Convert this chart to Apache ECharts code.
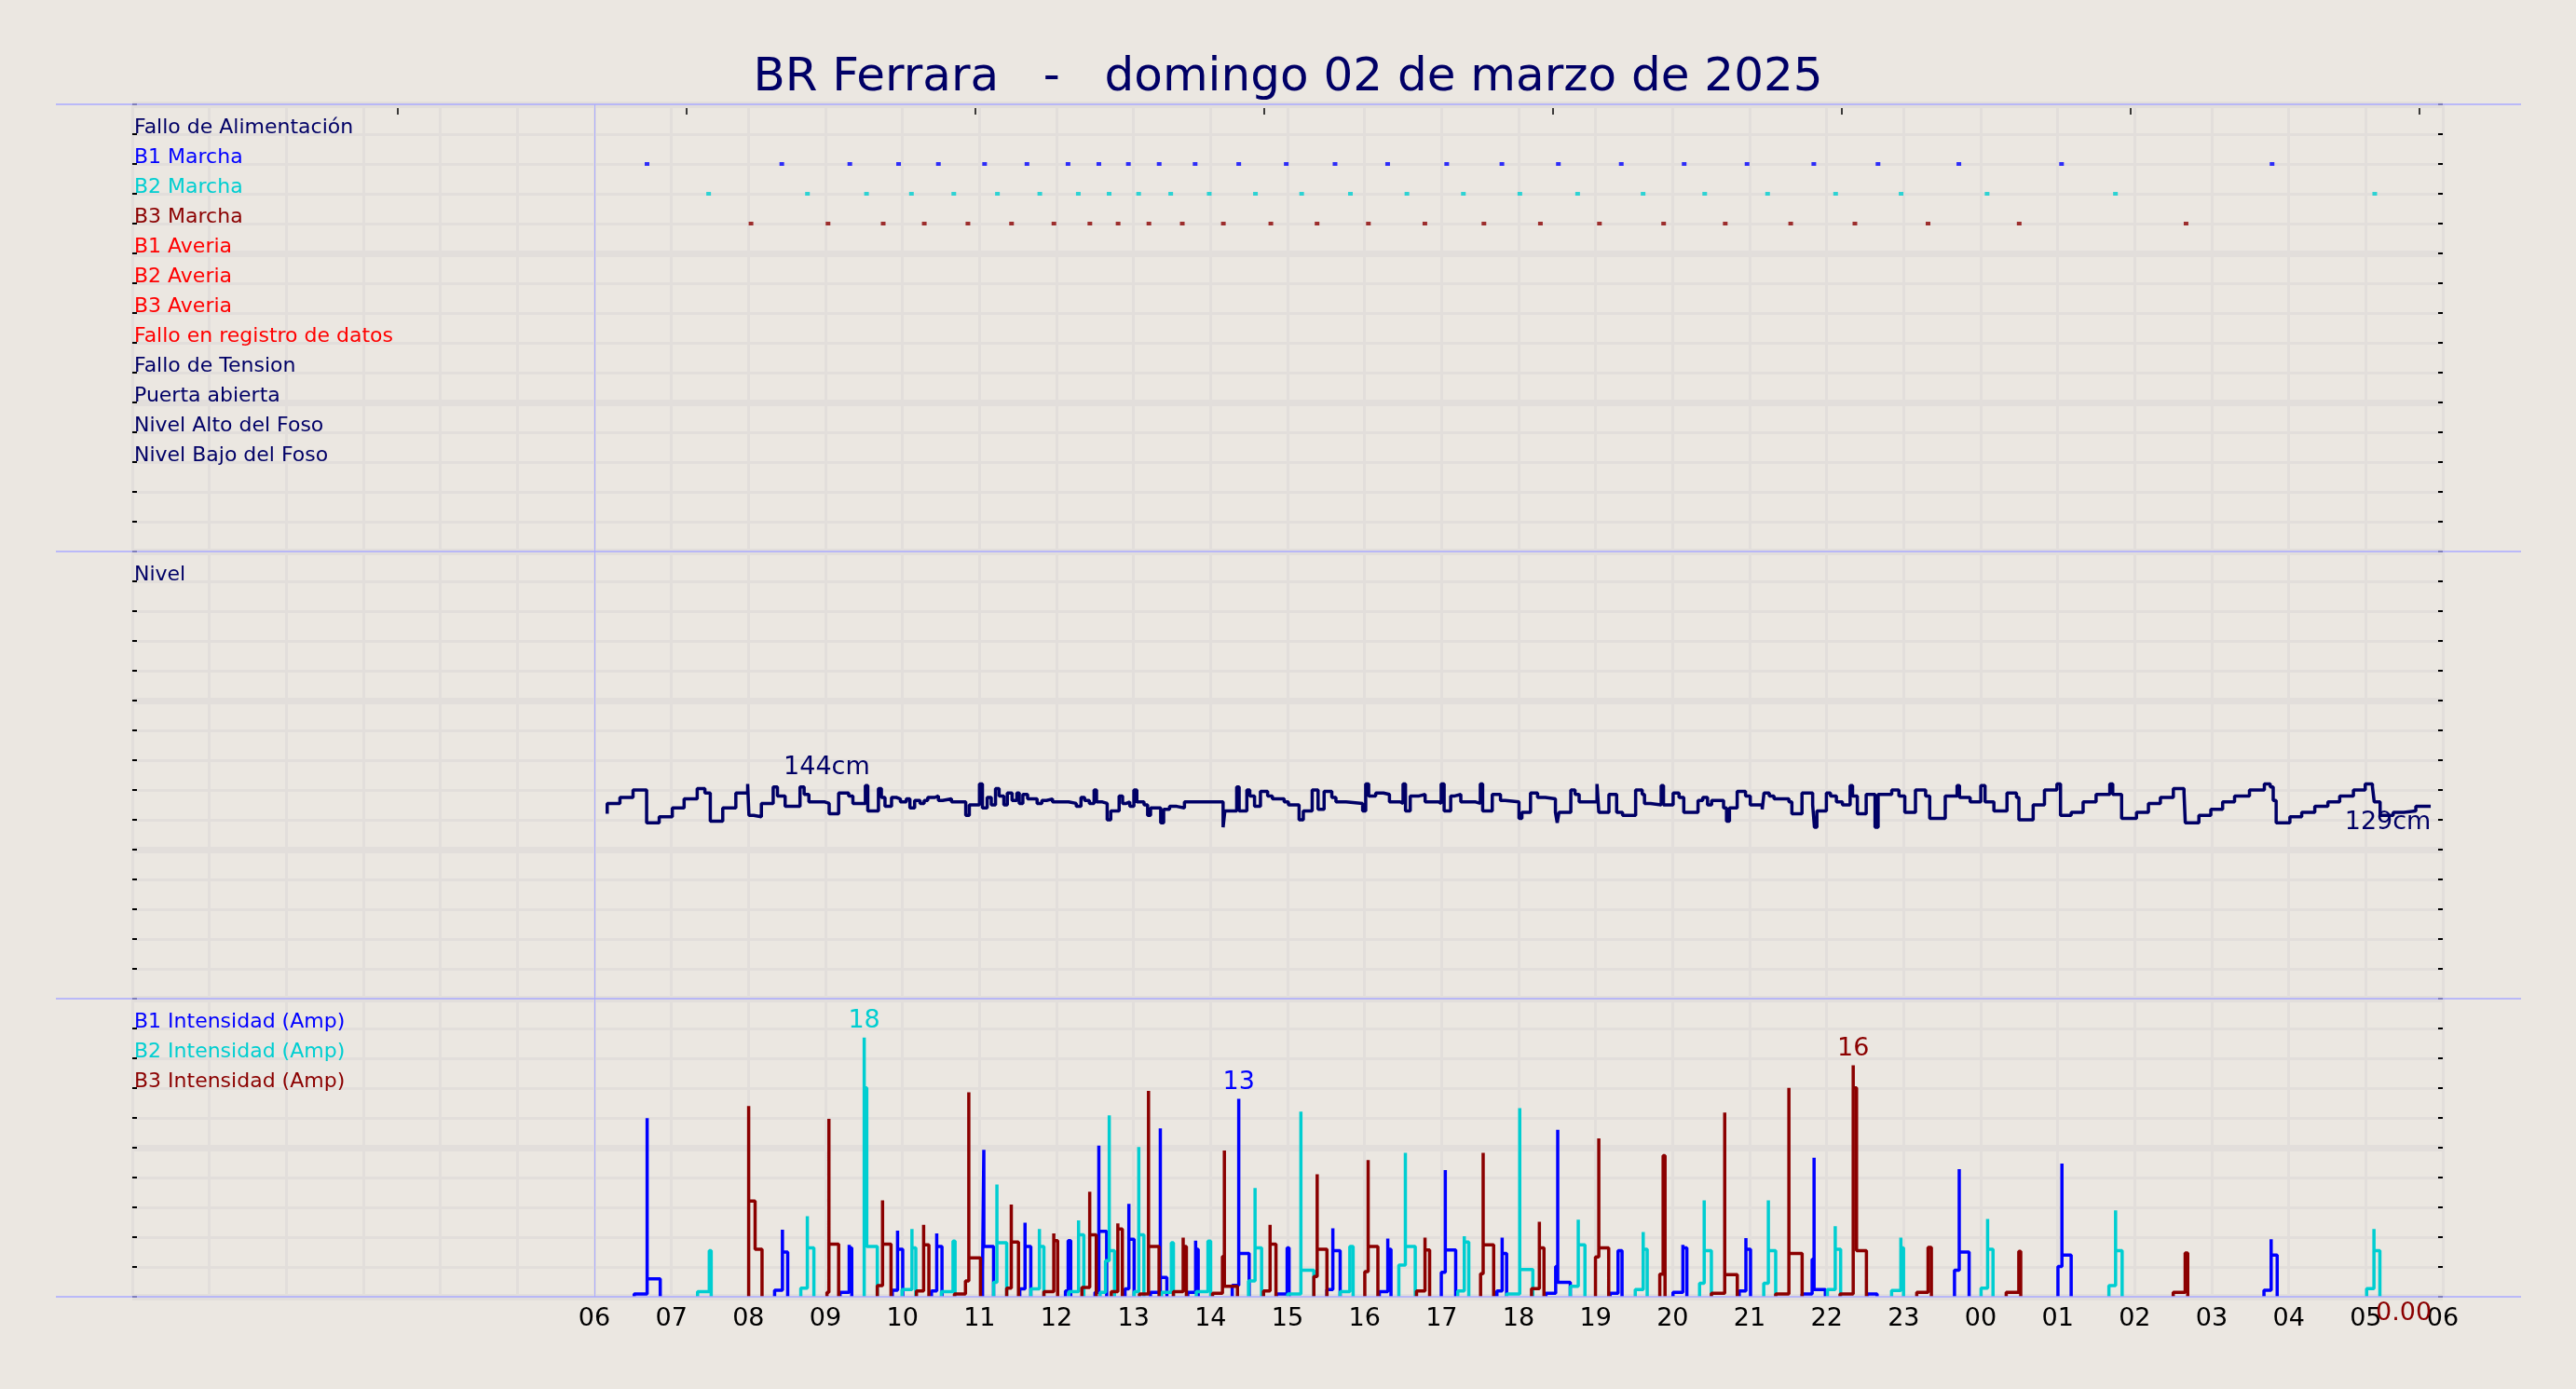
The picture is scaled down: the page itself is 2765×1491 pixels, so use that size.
<!DOCTYPE html>
<html>
<head>
<meta charset="utf-8">
<script src="https://cdn.jsdelivr.net/npm/echarts@6/dist/echarts.min.js"></script>
<style>
html,body{margin:0;padding:0;background:#ebe7e1;}
#chart{width:2765px;height:1491px;}
</style>
</head>
<body>
<div id="chart"></div>
<script>
// ---------------- DATA (time in minutes from 00:00 of 02/03/2025) ----------------
const titleText = 'BR Ferrara   -   domingo 02 de marzo de 2025';
const hourLabels = ['06','07','08','09','10','11','12','13','14','15','16','17','18','19','20','21','22','23','00','01','02','03','04','05','06'];
const rowLabels = ['Fallo de Alimentación','B1 Marcha','B2 Marcha','B3 Marcha','B1 Averia','B2 Averia','B3 Averia','Fallo en registro de datos','Fallo de Tension','Puerta abierta','Nivel Alto del Foso','Nivel Bajo del Foso'];
const nivelLabel = 'Nivel';
const ampLabels = ['B1 Intensidad (Amp)','B2 Intensidad (Amp)','B3 Intensidad (Amp)'];

const b1Marcha = [401,506,559,597,628,664,697,729,753,776,800,828,862,899,937,978,1024,1067,1111,1160,1209,1258,1310,1360,1423,1503,1667];
const b2Marcha = [449,526,572,607,640,674,707,737,761,784,809,839,875,911,949,993,1037,1081,1126,1177,1225,1274,1327,1378,1445,1545,1747];
const b3Marcha = [482,542,585,617,651,685,718,746,768,792,818,850,887,923,963,1007,1053,1097,1143,1193,1241,1292,1342,1399,1470,1600];

const nivelT = [370,370,379.9,390.1,400.7,410.5,420.7,429.9,440.1,446.1,450.3,460,470.2,479.4,480.4,484.1,490.1,499.3,502.6,508.6,520.2,523.4,527.1,539.6,542.9,550.3,558.1,561.4,571.1,573,581.3,583.6,586.4,591.5,595.2,598.4,603,605.8,609.5,613.7,616.9,619.7,625.3,628,631.3,638.2,649.3,652.1,660,662.3,666,669.2,672.5,675.3,679,681.7,685.4,689.1,691,693.8,697.5,704.9,708.6,712.3,716.9,729.4,735.4,739.1,741.9,745.6,749.3,751.2,755.8,759.5,762.3,768.8,771.5,774.3,777.1,780.3,782.6,788.2,791,793.3,801.2,803.5,808.1,813.7,819.7,849.8,851.2,860.4,862.3,868.3,870.6,874.3,878.9,884.5,888.2,897.4,900.7,909,912.3,919.2,923.8,928.5,934.5,937.7,945.6,958.5,960.9,963.2,968.7,974.7,979.4,987.7,990,991.9,995.6,1002.5,1007.2,1017.8,1019.7,1022,1027.1,1030.3,1035,1046.5,1050.2,1052,1059.5,1065.9,1069.6,1080.3,1082.6,1089.3,1094.8,1100.8,1108.7,1110.1,1111.5,1120.7,1124,1127.2,1141.1,1142.5,1150.4,1156.4,1161,1171.2,1176.3,1178.1,1182.8,1191.1,1192.9,1200.4,1205,1208.7,1219.8,1223.5,1227.2,1230.4,1239.7,1242,1244.3,1250.3,1256.8,1260.5,1269.8,1271.2,1275.3,1279,1290.6,1292.9,1300.8,1309.1,1310.5,1312.4,1319.8,1323,1327.6,1332.3,1338.3,1340.2,1343.9,1350.8,1357.7,1360.1,1370.7,1376.3,1380.9,1389.2,1397.1,1400.3,1412.4,1421.6,1423.5,1431.8,1440.1,1443.4,1450.3,1460.5,1467.9,1469.8,1480.9,1489.7,1499.4,1502.2,1510.5,1519.8,1529.9,1540.6,1542.9,1549.8,1561.4,1570.7,1580,1590.1,1598.4,1599.4,1610,1619.3,1628.5,1637.8,1649.4,1661,1665.6,1667.9,1670.2,1680.9,1690.1,1700.3,1710.5,1719.7,1730.4,1739.6,1745.2,1746.6,1751.2,1761.4,1769.7,1779,1790.6];
const nivelCm = [124,131,135,140,118,122,128,134,141,138,119,128,138,144,123,122,131,142,136,129,142,137,132,131,124,138,136,131,143,126,141,135,129,135,134,132,134,128,133,131,133,135,136,133,134,132,123,130,144,128,135,130,141,136,130,138,133,138,131,137,134,131,133,134,132,131,129,135,133,131,140,132,131,120,126,136,131,132,129,140,132,130,123,128,118,127,129,128,132,115,126,142,126,140,136,129,139,136,134,132,130,120,126,140,127,139,135,132,131,126,144,136,138,137,132,131,144,126,136,137,132,131,144,126,136,137,132,131,144,126,137,133,132,121,125,138,135,134,125,118,125,140,137,132,144,125,137,125,123,140,137,131,130,143,130,138,135,125,133,135,130,133,128,119,128,139,136,130,127,138,136,134,132,124,138,130,115,126,138,136,132,130,143,136,124,137,115,137,140,136,125,140,136,121,136,143,135,132,143,132,126,138,135,120,130,140,144,123,125,132,137,144,137,121,125,131,135,141,138,118,123,127,132,136,140,144,142,133,118,122,125,129,132,136,140,144,142,132,123,125,126,129,129];

// pump current pulses: [minute, amps]
const b1Pulses = [
 [[391,0.2],[401.1,12.4],[401.1,1.25],[411.3,0]],
 [[500.4,0.45],[506.5,4.66],[506.5,3.1],[510.6,0]],
 [[551.4,0.3],[558.5,3.6],[558.5,3.4],[560.5,0]],
 [[592.1,0.45],[596.2,4.6],[596.2,3.3],[600.2,0]],
 [[622.6,0.4],[626.7,4.4],[626.7,3.5],[630.8,0]],
 [[662.4,1.8],[663.4,10.2],[663.4,3.5],[671,0]],
 [[691.4,0.55],[695.5,5.15],[695.5,3.5],[700,0]],
 [[727,0.4],[729.1,3.9],[731.1,0]],
 [[750,0.3],[753,10.5],[753,4.55],[759.1,0]],
 [[773.4,0.55],[776.4,6.45],[776.4,4.0],[780.5,0]],
 [[793.2,0.3],[800.9,11.7],[800.9,1.35],[806,0]],
 [[822.3,0.3],[828.4,3.9],[828.4,3.3],[830.4,0]],
 [[856.9,0.8],[862,13.75],[862,3.0],[870.1,0]],
 [[891.5,0.2],[899.7,3.4],[901.2,0]],
 [[930.7,0.5],[935.3,4.76],[935.3,3.2],[941,0]],
 [[971.5,0.35],[978.1,4.05],[978.1,3.3],[980.6,0]],
 [[1019.8,1.7],[1022.9,8.8],[1022.9,3.25],[1031,0]],
 [[1063.1,0.4],[1067.2,4.1],[1067.2,3.0],[1070.7,0]],
 [[1101.3,0.25],[1108.9,2.1],[1110.5,11.6],[1110.5,1.0],[1120.3,0]],
 [[1151.3,0.25],[1157.5,3.2],[1160.6,0]],
 [[1200.3,0.3],[1208,3.6],[1208,3.4],[1211.1,0]],
 [[1251.9,0.4],[1257.1,4.07],[1257.1,3.3],[1260.7,0]],
 [[1300.9,0.2],[1308.7,2.6],[1310.2,9.65],[1310.2,0.5],[1319,0]],
 [[1351.5,0.2],[1359.3,0]],
 [[1419.6,1.85],[1423.3,8.86],[1423.3,3.1],[1431,0]],
 [[1500.2,2.1],[1503.3,9.25],[1503.3,2.9],[1510.5,0]],
 [[1660.7,0.45],[1666.3,4.0],[1666.3,2.9],[1671,0]]
];
const b2Pulses = [
 [[440.4,0.35],[449.5,3.2],[451,0]],
 [[520.8,0.6],[525.9,5.6],[525.9,3.4],[531,0]],
 [[570.2,18.0],[570.2,14.5],[572.2,3.5],[580.4,0]],
 [[599.7,0.5],[607.4,4.7],[607.4,3.4],[610.4,0]],
 [[630.3,0.35],[639.4,3.86],[641,0]],
 [[671,1.0],[673.6,7.8],[673.6,3.75],[681.2,0]],
 [[700,0.55],[706.7,4.7],[706.7,3.5],[710.2,0]],
 [[729.6,0.35],[737.2,5.3],[737.2,4.3],[741.3,0]],
 [[754,0.3],[758.2,2.5],[761.1,12.6],[761.1,3.2],[765.2,0]],
 [[780.5,0.35],[784.1,10.4],[784.1,4.3],[788.1,0]],
 [[801.9,0.3],[809.5,3.75],[811.1,0]],
 [[828.9,0.35],[838,3.86],[840.1,0]],
 [[869.6,1.1],[874.7,7.56],[874.7,3.4],[879.8,0]],
 [[900.2,0.2],[910.4,12.85],[910.4,1.85],[920.5,0]],
 [[940.9,0.35],[948.5,3.5],[951.1,0]],
 [[986.7,2.2],[991.8,10.0],[991.8,3.5],[999.5,0]],
 [[1032.6,0.4],[1037.7,4.2],[1037.7,3.8],[1041.2,0]],
 [[1070.7,0.2],[1080.9,13.1],[1080.9,1.9],[1091.1,0]],
 [[1120.3,0.73],[1126.5,5.35],[1126.5,3.6],[1131.7,0]],
 [[1170.9,0.5],[1177.1,4.5],[1177.1,3.3],[1180.2,0]],
 [[1221,0.93],[1224.6,6.7],[1224.6,3.2],[1230.2,0]],
 [[1271,0.93],[1274.6,6.7],[1274.6,3.2],[1280.3,0]],
 [[1320.6,0.5],[1326.7,4.9],[1326.7,3.3],[1330.9,0]],
 [[1370.6,0.43],[1377.8,4.1],[1377.8,3.4],[1379.9,0]],
 [[1440.3,0.6],[1445.4,5.4],[1445.4,3.3],[1449.6,0]],
 [[1539.9,0.78],[1545.1,6.0],[1545.1,3.2],[1550.2,0]],
 [[1740.7,0.56],[1746.4,4.7],[1746.4,3.2],[1751,0]]
];
const b3Pulses = [
 [[480.2,13.25],[480.2,6.64],[485.2,3.3],[490.6,0]],
 [[541.2,0.3],[542.7,12.35],[542.7,3.66],[550.3,0]],
 [[580.4,0.78],[584.5,6.7],[584.5,3.66],[591.1,0]],
 [[610.9,0.4],[616.5,5.0],[616.5,3.6],[620.6,0]],
 [[640.5,0.2],[649.1,1.1],[651.7,14.2],[651.7,2.7],[660.8,0]],
 [[681.2,0.6],[684.8,6.4],[684.8,3.8],[690.4,0]],
 [[710.2,0.35],[717.9,4.4],[717.9,3.9],[720.9,0]],
 [[739.8,0.65],[745.9,7.3],[745.9,4.3],[751,0]],
 [[762.7,0.35],[767.8,5.1],[767.8,4.7],[771.3,0]],
 [[784.6,0.2],[791.7,14.3],[791.7,3.5],[799.9,0]],
 [[811.1,0.35],[818.7,4.1],[818.7,3.5],[821.2,0]],
 [[841.6,0.25],[849.3,2.8],[850.8,10.15],[850.8,0.73],[861,0]],
 [[881.3,0.4],[886.4,5.0],[886.4,3.65],[891,0]],
 [[920.5,1.4],[923.1,8.5],[923.1,3.3],[930.7,0]],
 [[960.2,1.75],[962.8,9.5],[962.8,3.5],[970.4,0]],
 [[1000.5,0.4],[1007.1,4.1],[1007.1,3.25],[1010.7,0]],
 [[1050.4,1.6],[1052.4,10.0],[1052.4,3.6],[1060.6,0]],
 [[1090.1,0.56],[1096.2,5.2],[1096.2,3.4],[1099.8,0]],
 [[1139.9,2.76],[1142.5,11.0],[1142.5,3.4],[1150.2,0]],
 [[1190,1.57],[1192.6,9.8],[1194.1,0]],
 [[1230.2,0.24],[1240.6,12.8],[1240.6,1.53],[1250.4,0]],
 [[1280.3,0.2],[1290.6,14.5],[1290.6,3.0],[1300.9,0]],
 [[1330.4,0.2],[1340.7,16.08],[1340.7,14.5],[1343.3,3.2],[1351,0]],
 [[1390.2,0.3],[1399,3.43],[1401.6,0]],
 [[1459.9,0.3],[1469.7,3.15],[1471.2,0]],
 [[1590,0.3],[1599.3,3.04],[1601.3,0]]
];
const b3LastValue = 0;
const nivelMaxLabelAt = 541;     // time where the max label is printed
const topTickMinutes = [207,432,657,882,1107,1332,1557,1782];

// ---------------- STYLE ----------------
const FONT = 'DejaVu Sans';
const BG = '#ebe7e1';
const GRID = '#e2dedb';
const FRAME = '#aaaaff';
const NAVY = '#000066';
const C1 = '#0000ff', C2 = '#00ced1', C3 = '#8b0000';
const rowColors = [NAVY,C1,C2,C3,'#ff0000','#ff0000','#ff0000','#ff0000',NAVY,NAVY,NAVY,NAVY];
const ampColors = [C1,C2,C3];
const LABEL_FS = 22, LABEL_LH = 13;

const L = 142, R = 2765 - 2622;
const panels = [{top:112,height:480},{top:592,height:480},{top:1072,height:320}];

function buildAmp(pulses){
  const out = [];
  pulses.forEach(p => {
    out.push([p[0][0], 0]);
    p.forEach(pt => out.push(pt));
    out.push(null);
  });
  return out;
}
const nivelData = nivelT.map((t,i) => [t, nivelCm[i]]);
const nivelMax = Math.max(...nivelCm);
const nivelLast = nivelData[nivelData.length-1];
const endTime = nivelLast[0];

function gridX(gi, labels){
  return {
    gridIndex: gi, type:'value', min:0, max:1800, interval:60,
    axisLine:{show:false}, axisTick:{show:false},
    axisLabel: labels ? {
      show:true, color:'#000', fontSize:27, fontFamily:FONT, margin:10,
      formatter: v => { const i = Math.round((v-360)/60); return (v>=360 && i<hourLabels.length) ? hourLabels[i] : ''; }
    } : {show:false},
    splitLine:{show:true, lineStyle:{color:GRID, width:3}}
  };
}
function thinY(gi, min, max, interval, inverse, labelFn, rich){
  return {
    gridIndex:gi, type:'value', min, max, interval, inverse, position:'left',
    axisLine:{show:false},
    axisTick:{show:true, inside:true, length:5, lineStyle:{color:'#000', width:2}},
    axisLabel: labelFn ? {show:true, inside:true, margin:2, verticalAlign:'bottom', formatter: labelFn, rich} : {show:false},
    splitLine:{show:true, lineStyle:{color:GRID, width:3}}
  };
}
function thickY(gi, min, max, interval, inverse){
  return {gridIndex:gi, type:'value', min, max, interval, inverse, position:'left',
    axisLine:{show:false}, axisTick:{show:false}, axisLabel:{show:false},
    splitLine:{show:true, lineStyle:{color:GRID, width:7}}};
}
function rightY(gi, min, max, interval, inverse){
  return {gridIndex:gi, type:'value', min, max, interval, inverse, position:'right',
    axisLine:{show:false}, axisLabel:{show:false}, splitLine:{show:false},
    axisTick:{show:true, inside:true, length:5, lineStyle:{color:'#000', width:2}}};
}
const rowRich = {};
rowColors.forEach((c,i) => rowRich['r'+i] = {color:c, fontSize:LABEL_FS, fontFamily:FONT, lineHeight:LABEL_LH});
const ampRich = {};
ampColors.forEach((c,i) => ampRich['a'+i] = {color:c, fontSize:LABEL_FS, fontFamily:FONT, lineHeight:LABEL_LH});
const nivRich = {n:{color:NAVY, fontSize:LABEL_FS, fontFamily:FONT, lineHeight:LABEL_LH}};

const vLine = {silent:true, symbol:['none','none'], label:{show:false},
  lineStyle:{color:FRAME, width:1, type:'solid'}, data:[{xAxis:360}]};

function marchaSeries(name, times, row, color, withLine){
  return {name, type:'scatter', xAxisIndex:0, yAxisIndex:0, symbol:'rect', symbolSize:[5,4],
    itemStyle:{color}, data: times.map(t => [t, row]), z:4,
    markLine: withLine ? vLine : undefined, animation:false};
}
function ampSeries(name, pulses, color, extra){
  const s = {name, type:'line', xAxisIndex:3, yAxisIndex:9, step:'end', showSymbol:false,
    connectNulls:false, data: buildAmp(pulses), lineStyle:{color, width:3.5}, itemStyle:{color},
    animation:false,
    markPoint:{symbolSize:0, label:{show:true, position:'top', distance:4, color, fontSize:27, fontFamily:FONT,
      formatter: p => String(Math.floor(p.value))}, data:[{type:'max'}]}};
  if (extra) extra(s);
  return s;
}

const option = {
  backgroundColor: BG,
  animation:false,
  textStyle:{fontFamily:FONT},
  title:{text:titleText, left:'center', top:54,
    textStyle:{fontFamily:FONT, fontSize:50, fontWeight:'normal', color:NAVY}},
  grid: [
    ...panels.map(p => ({left:L, right:R, top:p.top, height:p.height, outerBoundsMode:'none'})),
    {left:60, right:59, top:112, height:1280, outerBoundsMode:'none'}
  ],
  xAxis: [
    gridX(0,false),
    {gridIndex:0, type:'value', min:0, max:1800, position:'top', offset:-4,
      axisLine:{show:false}, axisLabel:{show:false}, splitLine:{show:false},
      axisTick:{show:true, inside:true, length:7, customValues: topTickMinutes, lineStyle:{color:'#000', width:1.5}}},
    gridX(1,false),
    gridX(2,true),
    {gridIndex:3, type:'value', min:0, max:1, show:false}
  ],
  yAxis: [
    thinY(0,0,15,1,true, v => { const i = Math.round(v)-1; return (i>=0 && i<rowLabels.length) ? '{r'+i+'|'+rowLabels[i]+'}' : ''; }, rowRich),
    thickY(0,0,15,5,true),
    rightY(0,0,15,1,true),
    thinY(1,0,300,20,false, v => v === 280 ? '{n|'+nivelLabel+'}' : '', nivRich),
    thickY(1,0,300,100,false),
    rightY(1,0,300,20,false),
    thinY(2,0,10,1,true, v => { const i = Math.round(v)-1; return (i>=0 && i<ampLabels.length) ? '{a'+i+'|'+ampLabels[i]+'}' : ''; }, ampRich),
    thickY(2,0,10,5,true),
    rightY(2,0,10,1,true),
    {gridIndex:2, type:'value', min:0, max: v => v.max*1.15, show:false, splitLine:{show:false}},
    {gridIndex:3, type:'value', min:0, max:40, inverse:true, show:false, splitLine:{show:false}}
  ],
  series: [
    marchaSeries('B1 Marcha', b1Marcha, 2, C1, true),
    marchaSeries('B2 Marcha', b2Marcha, 3, C2, false),
    marchaSeries('B3 Marcha', b3Marcha, 4, C3, false),
    {name:'Nivel', type:'line', xAxisIndex:2, yAxisIndex:3, step:'end', showSymbol:false,
      data:nivelData, lineStyle:{color:NAVY, width:3.5}, itemStyle:{color:NAVY}, animation:false,
      markLine: vLine,
      markPoint:{symbolSize:0,
        label:{show:true, color:NAVY, fontSize:27, fontFamily:FONT, formatter: p => p.value + 'cm'},
        data:[
          {coord:[nivelMaxLabelAt, nivelMax], value:nivelMax, label:{position:'top', distance:4}},
          {coord:nivelLast, value:nivelLast[1], label:{position:'bottom', distance:4, offset:[-46,0]}}
        ]}},
    ampSeries('B1 Intensidad', b1Pulses, C1, s => { s.markLine = vLine; }),
    ampSeries('B2 Intensidad', b2Pulses, C2),
    ampSeries('B3 Intensidad', b3Pulses, C3, s => {
      s.markPoint.data.push({coord:[endTime, b3LastValue], value:b3LastValue,
        label:{position:'bottom', distance:4, offset:[-29,0], formatter: p => Number(p.value).toFixed(2)}});
    }),
    {name:'frame', type:'line', xAxisIndex:4, yAxisIndex:10, data:[[0,0]], showSymbol:false,
      lineStyle:{opacity:0}, clip:false, z:10, animation:false,
      markLine:{silent:true, symbol:['none','none'], label:{show:false},
        lineStyle:{color:FRAME, width:1.5, type:'solid'},
        data:[{yAxis:0},{yAxis:15},{yAxis:30},{yAxis:40}]}}
  ]
};
const chart = echarts.init(document.getElementById('chart'), null, {renderer:'canvas'});
chart.setOption(option);
</script>
</body>
</html>
